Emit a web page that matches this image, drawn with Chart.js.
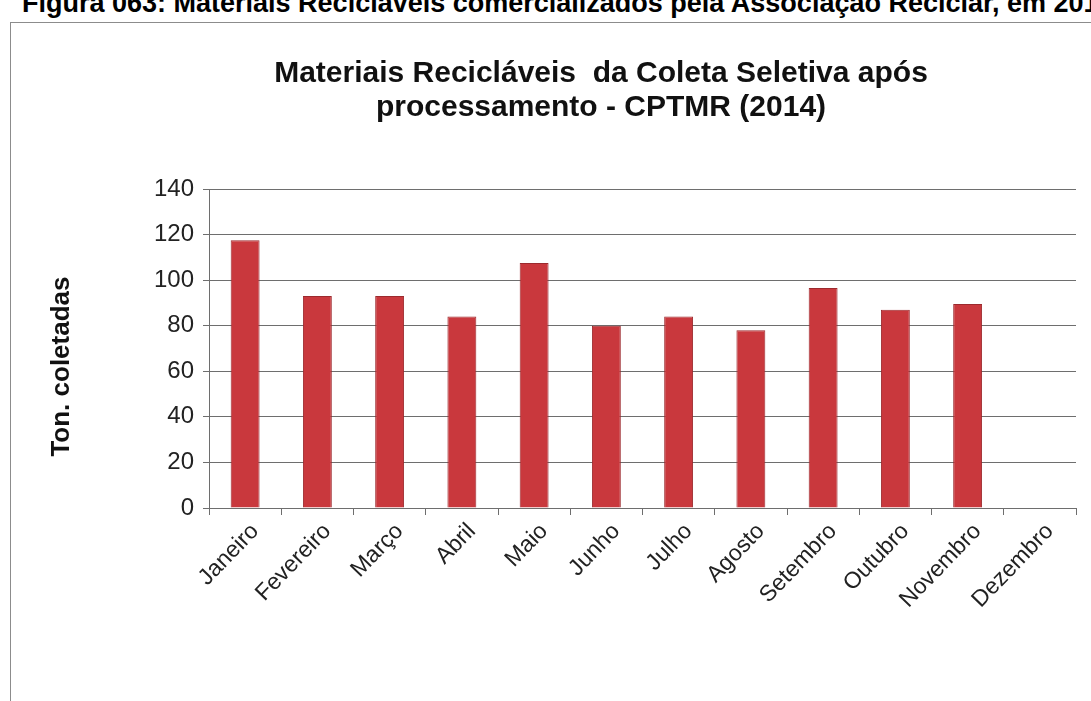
<!DOCTYPE html>
<html>
<head>
<meta charset="utf-8">
<script src="https://cdn.jsdelivr.net/npm/chart.js@4"></script>
<style>
    html, body { margin: 0; padding: 0; background: #fff; overflow: hidden; width: 1091px; height: 701px; }
    #caption {
        position: absolute; left: 22px; top: -12px; white-space: nowrap; line-height: 26px;
        font: bold 27px "Liberation Sans", Arial, sans-serif; color: #000;
    }
    #frame {
        position: absolute; left: 10px; top: 22px; width: 1200px; height: 800px;
        border-left: 1px solid #8c8c8c; border-top: 1px solid #8c8c8c;
    }
    #wrap { position: absolute; left: 12px; top: 23px; width: 1178px; height: 678px; }
</style>
</head>
<body>
<div id="caption">Figura 063: Materiais Recicláveis comercializados pela Associação Reciclar, em 2014</div>
<div id="frame"></div>
<div id="wrap"><canvas id="chart"></canvas></div>
<script>
// months and tonnage (Dezembro has no bar)
const months = ['Janeiro', 'Fevereiro', 'Março', 'Abril', 'Maio', 'Junho',
                'Julho', 'Agosto', 'Setembro', 'Outubro', 'Novembro', 'Dezembro'];
const tonnes = [117.5, 93, 93, 84, 107.5, 80, 84, 78, 96.5, 87, 89.5, null];
const yTicks = [0, 20, 40, 60, 80, 100, 120, 140];

const gridColor = '#6e6e6e';
const font = '"Liberation Sans", Arial, sans-serif';

const ctx = document.getElementById('chart').getContext('2d');
const chart = new Chart(ctx, {
    type: 'bar',
    data: {
        labels: months,
        datasets: [{
            label: 'Ton. coletadas',
            data: tonnes,
            backgroundColor: '#c9383d',
            borderColor: '#9c2a2e',
            borderWidth: 1,
            barPercentage: 0.4,
            categoryPercentage: 1
        }]
    },
    options: {
        responsive: true,
        maintainAspectRatio: false,
        animation: false,
        layout: { padding: 0 },
        plugins: {
            legend: { display: false },
            tooltip: { enabled: false },
            title: {
                display: true,
                text: ['Materiais Recicláveis  da Coleta Seletiva após', 'processamento - CPTMR (2014)'],
                color: '#111',
                font: { family: font, size: 30, weight: 'bold', lineHeight: 1.15 },
                padding: { top: 33, bottom: 64 }
            }
        },
        scales: {
            x: {
                offset: true,
                grid: {
                    display: true,
                    offset: true,
                    drawOnChartArea: false,
                    drawTicks: true,
                    tickLength: 7,
                    color: gridColor
                },
                border: { display: true, color: gridColor },
                ticks: {
                    color: '#222',
                    font: { family: font, size: 23 },
                    minRotation: 46,
                    maxRotation: 46,
                    labelOffset: 10,
                    padding: 3
                },
                afterFit: scale => { scale.height = 193; }
            },
            y: {
                min: 0,
                max: 140,
                afterBuildTicks: scale => { scale.ticks = yTicks.map(v => ({ value: v })); },
                grid: { color: gridColor, tickLength: 6 },
                border: { display: true, color: gridColor },
                ticks: {
                    color: '#222',
                    font: { family: font, size: 24 },
                    padding: 9
                },
                title: {
                    display: true,
                    text: 'Ton. coletadas     ',
                    color: '#111',
                    font: { family: font, size: 26, weight: 'bold' },
                    padding: { top: 34, bottom: 0 }
                },
                afterFit: scale => { scale.width = 197; }
            },
            // empty right-hand box so the title centres over the whole frame, as in the original
            y2: {
                type: 'linear',
                position: 'right',
                grid: { display: false },
                border: { display: false },
                ticks: { display: false },
                afterFit: scale => { scale.width = 114; }
            }
        }
    }
});
</script>
</body>
</html>
